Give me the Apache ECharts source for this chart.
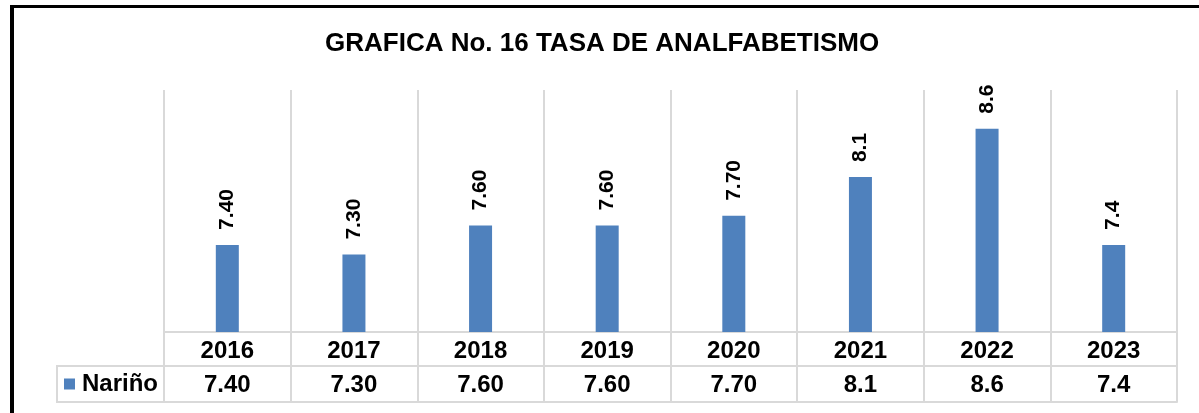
<!DOCTYPE html>
<html>
<head>
<meta charset="utf-8">
<script src="https://cdn.jsdelivr.net/npm/echarts@6/dist/echarts.min.js"></script>
<style>
html,body{margin:0;padding:0;background:#fff;}
#c{width:1199px;height:413px;}
</style>
</head>
<body>
<div id="c"></div>
<script>
const categories = ['2016','2017','2018','2019','2020','2021','2022','2023'];
const values = [7.40, 7.30, 7.60, 7.60, 7.70, 8.1, 8.6, 7.4];
const valueLabels = ['7.40','7.30','7.60','7.60','7.70','8.1','8.6','7.4'];
const seriesName = 'Nariño';
const titleText = 'GRAFICA No. 16 TASA DE ANALFABETISMO';

const FONT = '"Liberation Sans", Arial, sans-serif';
const GRID_COLOR = '#d9d9d9';

const chart = echarts.init(document.getElementById('c'));
chart.setOption({
  backgroundColor: '#fff',
  animation: false,
  title: {
    text: titleText,
    left: 325, top: 31, padding: 0,
    textStyle: {fontFamily: FONT, fontWeight: 'bold', fontSize: 26, color: '#000'}
  },
  legend: {
    data: [seriesName],
    left: 64, top: 372, padding: 0,
    icon: 'rect', itemWidth: 11, itemHeight: 11,
    textStyle: {fontFamily: FONT, fontWeight: 'bold', fontSize: 24, color: '#000', padding: [0,0,0,2]}
  },
  grid: {left: 164, right: 22, top: 90, bottom: 81, containLabel: false},
  xAxis: [
    {
      type: 'category', data: categories, position: 'bottom',
      axisLine: {show: true, lineStyle: {color: GRID_COLOR, width: 2}},
      axisTick: {show: true, length: 34, interval: 0, lineStyle: {color: GRID_COLOR, width: 2}},
      splitLine: {show: true, interval: 0, lineStyle: {color: GRID_COLOR, width: 2}},
      axisLabel: {interval: 0, margin: 7, fontFamily: FONT, fontWeight: 'bold', fontSize: 24, color: '#000'}
    },
    {
      type: 'category', data: valueLabels, position: 'bottom', offset: 34, gridIndex: 0,
      axisLine: {show: true, lineStyle: {color: GRID_COLOR, width: 2}},
      axisTick: {show: true, length: 36, interval: 0, lineStyle: {color: GRID_COLOR, width: 2}},
      splitLine: {show: false},
      axisLabel: {interval: 0, margin: 7, fontFamily: FONT, fontWeight: 'bold', fontSize: 24, color: '#000'}
    },
    {
      type: 'category', data: categories, position: 'bottom', offset: 70, gridIndex: 0,
      axisLine: {show: true, lineStyle: {color: GRID_COLOR, width: 2}},
      axisTick: {show: false}, axisLabel: {show: false}, splitLine: {show: false}
    }
  ],
  yAxis: {type: 'value', min: 6.5, max: 9, show: false, splitLine: {show: false}},
  series: [{
    name: seriesName,
    type: 'bar',
    xAxisIndex: 0,
    data: values,
    barWidth: 23,
    itemStyle: {color: '#4f81bd'},
    label: {
      show: true, position: 'top', rotate: 90, align: 'left', verticalAlign: 'middle',
      distance: 15,
      fontFamily: FONT, fontWeight: 'bold', fontSize: 21, color: '#000',
      formatter: p => valueLabels[p.dataIndex]
    }
  }],
  graphic: [
    {type: 'rect', shape: {x: 57, y: 366, width: 107, height: 36}, style: {fill: 'none', stroke: GRID_COLOR, lineWidth: 2}, silent: true},
    {type: 'rect', shape: {x: 10, y: 5, width: 4, height: 408}, style: {fill: '#000'}, silent: true},
    {type: 'rect', shape: {x: 10, y: 5, width: 1189, height: 3}, style: {fill: '#000'}, silent: true}
  ]
});
</script>
</body>
</html>
